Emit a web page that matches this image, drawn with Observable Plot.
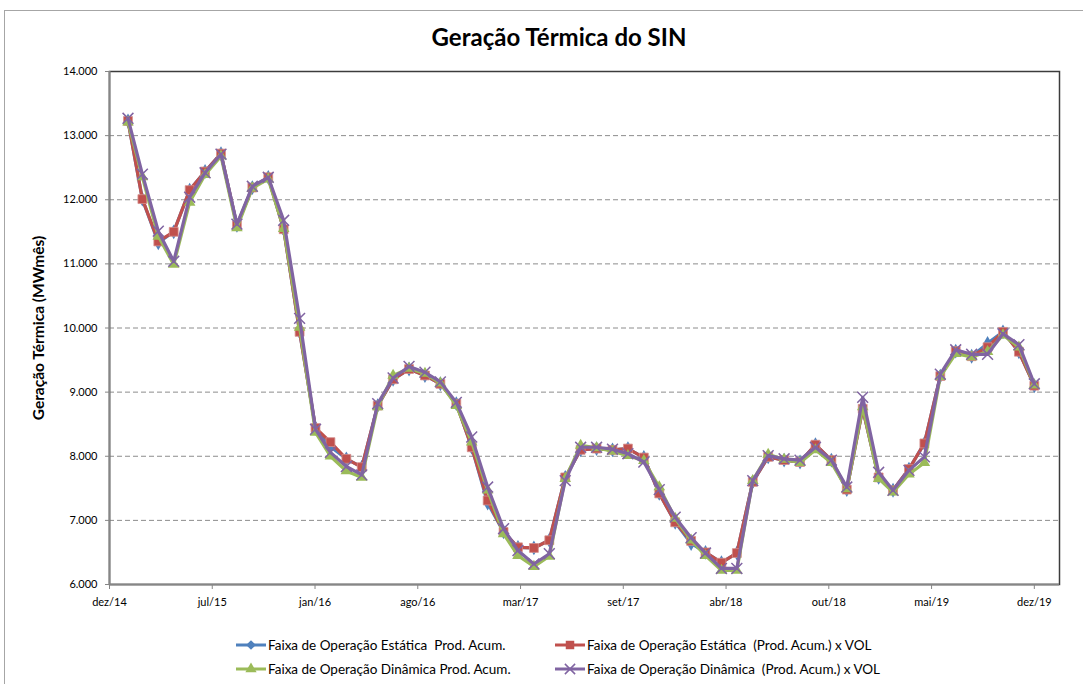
<!DOCTYPE html>
<html><head><meta charset="utf-8">
<script src="https://cdn.jsdelivr.net/npm/d3@7"></script>
<script src="https://cdn.jsdelivr.net/npm/@observablehq/plot@0.6"></script>
<style>
body{margin:0;background:#fff;font-family:Lato,"Open Sans",sans-serif;color:#000;}
#wrap{position:relative;width:1083px;height:684px;overflow:hidden;background:#fff;}
#frame{position:absolute;left:4px;top:10px;width:1200px;height:800px;border-left:1px solid #a6a6a6;border-top:1px solid #a6a6a6;}
#title{position:absolute;top:22px;left:0;width:1118px;text-align:center;font-weight:bold;font-size:24px;}
#chart{position:absolute;left:0;top:0;}
.leg{position:absolute;font-size:13.5px;white-space:pre;display:flex;align-items:center;}
.leg svg{margin-right:2px;}
g[aria-label="y-axis label"] text{font-weight:bold;font-size:15.5px;}
</style></head>
<body><div id="wrap"><div id="frame"></div><div id="title">Geração Térmica do SIN</div><div id="chart"></div></div>
<script>
const months = ["2015-02","2015-03","2015-04","2015-05","2015-06","2015-07","2015-08","2015-09","2015-10","2015-11","2015-12",
"2016-01","2016-02","2016-03","2016-04","2016-05","2016-06","2016-07","2016-08","2016-09","2016-10","2016-11","2016-12",
"2017-01","2017-02","2017-03","2017-04","2017-05","2017-06","2017-07","2017-08","2017-09","2017-10","2017-11","2017-12",
"2018-01","2018-02","2018-03","2018-04","2018-05","2018-06","2018-07","2018-08","2018-09","2018-10","2018-11","2018-12",
"2019-01","2019-02","2019-03","2019-04","2019-05","2019-06","2019-07","2019-08","2019-09","2019-10","2019-11","2019-12"];

const estaticaProd = [13230,12010,11330,11500,12150,12440,12720,11600,12190,12350,11540,9940,8440,8150,7960,7830,8790,9200,9360,9260,9130,8820,8140,7270,6820,6580,6570,6690,7670,8100,8120,8100,8120,7980,7420,6970,6640,6500,6340,6490,7600,7990,7940,7910,8180,7940,7480,8740,7670,7470,7800,8200,9250,9640,9560,9760,9940,9630,9100];
const estaticaVol = [13230,12010,11350,11500,12150,12440,12720,11600,12190,12350,11540,9940,8440,8220,7960,7830,8790,9200,9360,9260,9130,8820,8140,7310,6820,6580,6570,6690,7670,8100,8120,8100,8120,7980,7420,6970,6680,6500,6340,6490,7600,7990,7940,7910,8180,7940,7480,8740,7670,7470,7800,8200,9250,9640,9560,9700,9940,9630,9100];
const dinamicaProd = [13210,12355,11430,10990,11960,12390,12680,11560,12180,12320,11550,10010,8370,8000,7770,7670,8770,9260,9370,9290,9140,8790,8220,7470,6790,6450,6280,6440,7650,8170,8130,8080,8010,7930,7520,7030,6690,6450,6220,6220,7620,8030,7950,7900,8100,7900,7490,8770,7650,7440,7720,7900,9240,9600,9550,9630,9890,9700,9110];
const dinamicaVol = [13270,12400,11510,11040,12040,12420,12710,11620,12210,12350,11680,10150,8420,8060,7840,7710,8820,9220,9400,9310,9160,8840,8300,7520,6870,6530,6320,6480,7620,8140,8140,8110,8040,7910,7480,7050,6730,6490,6250,6250,7620,8010,7960,7940,8140,7940,7520,8920,7750,7470,7780,7990,9280,9660,9590,9590,9910,9740,9130];

const seriesNames = ["Faixa de Operação Estática  Prod. Acum.","Faixa de Operação Estática  (Prod. Acum.) x VOL","Faixa de Operação Dinâmica Prod. Acum.","Faixa de Operação Dinâmica  (Prod. Acum.) x VOL"];
const seriesColors = ["#4F81BD","#C0504D","#9BBB59","#8064A2"];
const seriesSymbols = ["diamond2","square","triangle","times"];

const yTicks = [6000,7000,8000,9000,10000,11000,12000,13000,14000];
const xTickDates = ["2014-12-27","2015-07-15","2016-01-31","2016-08-18","2017-03-06","2017-09-22","2018-04-10","2018-10-27","2019-05-15","2019-12-01"];
const xTickLabels = ["dez/14","jul/15","jan/16","ago/16","mar/17","set/17","abr/18","out/18","mai/19","dez/19"];
const xDomain = ["2014-12-27","2020-01-19"];
const yLabel = "Geração Térmica (MWmês)";

const parse = d3.utcParse("%Y-%m-%d");
const fmt = d3.formatLocale({decimal:",",thousands:".",grouping:[3],currency:["R$",""]}).format(",");
const allValues = [estaticaProd, estaticaVol, dinamicaProd, dinamicaVol];
const tickMap = new Map(xTickDates.map((d,i)=>[+parse(d), xTickLabels[i]]));

const seriesMarks = [];
allValues.forEach((vals, si) => {
  const rows = months.map((m, j) => ({date: parse(m + "-01"), value: vals[j]}));
  seriesMarks.push(Plot.line(rows, {x:"date", y:"value", stroke: seriesColors[si], strokeWidth: 3.2, strokeLinejoin:"round"}));
  const sym = seriesSymbols[si];
  if (sym === "times") {
    seriesMarks.push(Plot.dot(rows, {x:"date", y:"value", symbol:"times", stroke: seriesColors[si], strokeWidth:1.5, r:5}));
  } else if (sym === "diamond2") {
    seriesMarks.push(Plot.dot(rows, {x:"date", y:"value", symbol:"diamond", fill: seriesColors[si], r:4.5}));
  } else if (sym === "square") {
    seriesMarks.push(Plot.dot(rows, {x:"date", y:"value", symbol:"square", fill: seriesColors[si], stroke:"#d68f8d", strokeWidth:0.8, r:5}));
  } else {
    seriesMarks.push(Plot.dot(rows, {x:"date", y:"value", symbol:"triangle", fill: seriesColors[si], r:4.3}));
  }
});

const chart = Plot.plot({
  width: 1083, height: 620,
  marginLeft: 109, marginRight: 24, marginTop: 71, marginBottom: 36,
  x: {type:"utc", domain: xDomain.map(parse)},
  y: {domain: [yTicks[0], yTicks[yTicks.length-1]]},
  style: {fontFamily: "Lato, 'Open Sans', sans-serif", fontSize: "11px", color: "#000", background: "transparent", overflow:"visible"},
  marks: [
    Plot.ruleY(yTicks.slice(1, -1), {stroke:"#8c8c8c", strokeDasharray:"5,3", strokeWidth:1}),
    Plot.frame({stroke:"#3c3c3c", strokeWidth:1.5}),
    Plot.ruleY([yTicks[0]], {stroke:"#868686", strokeWidth:2}),
    Plot.ruleX([parse(xDomain[0])], {stroke:"#868686", strokeWidth:2}),
    Plot.axisX({ticks: xTickDates.map(parse), tickFormat: d => tickMap.get(+d), tickSize: 5, tickPadding: 9, stroke:"#868686", label: null}),
    Plot.axisY({ticks: yTicks, tickFormat: fmt, tickSize: 4, tickPadding: 8, stroke:"#868686", label: yLabel, labelAnchor:"center", labelOffset: 77, labelArrow:"none"}),
    ...seriesMarks
  ]
});
document.getElementById("chart").appendChild(chart);

// legend
const wrap = document.getElementById("wrap");
const legPos = [[236,637],[555,637],[236,661],[555,661]];
seriesNames.forEach((name, i) => {
  const div = document.createElement("div");
  div.className = "leg";
  div.style.left = legPos[i][0] + "px";
  div.style.top = legPos[i][1] + "px";
  const svg = d3.create("svg").attr("width", 30).attr("height", 14);
  svg.append("line").attr("x1",0).attr("x2",30).attr("y1",7).attr("y2",7).attr("stroke",seriesColors[i]).attr("stroke-width",3);
  const symMap = {diamond2: d3.symbolDiamond2, square: d3.symbolSquare, triangle: d3.symbolTriangle, times: d3.symbolTimes};
  const sizeMap = {diamond2: 60, square: 72, triangle: 55, times: 70};
  const p = svg.append("path").attr("transform","translate(15,7)").attr("d", d3.symbol(symMap[seriesSymbols[i]], sizeMap[seriesSymbols[i]])());
  if (seriesSymbols[i] === "times") p.attr("fill","none").attr("stroke",seriesColors[i]).attr("stroke-width",1.5);
  else p.attr("fill", seriesColors[i]);
  div.appendChild(svg.node());
  const span = document.createElement("span");
  span.textContent = name;
  div.appendChild(span);
  wrap.appendChild(div);
});
</script>
</body></html>
